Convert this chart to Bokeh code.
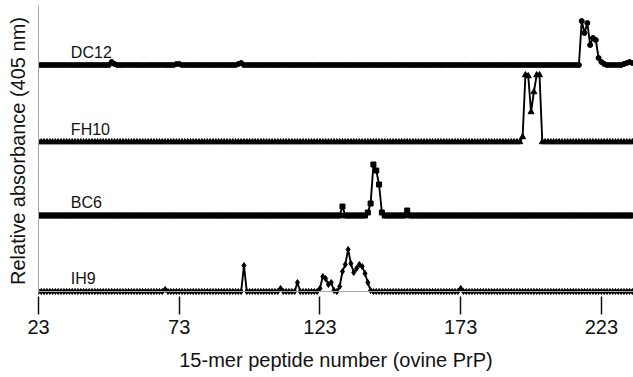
import numpy as np
from bokeh.plotting import figure
from bokeh.models import FixedTicker, Span
from bokeh.embed import file_html
from bokeh.resources import INLINE
from bokeh.core.properties import value

# 15-mer peptide numbers (ovine PrP)
peptides = list(range(23, 235))

# Relative absorbance (405 nm), arbitrary units, one value per peptide (23..234)
dc12 = (
    [0] * 20 +                                                     # 23-42
    [0, 0, 0, 0, 0, 0, 3, 1, 0, 0, 0, 0, 0, 0, 0, 0, 0, 0, 0, 0] +  # 43-62
    [0, 0, 0, 0, 0, 0, 0, 0, 0, 1, 1, 0, 0, 0, 0, 0, 0, 0, 0, 0] +  # 63-82
    [0, 0, 0, 0, 0, 0, 0, 0, 0, 0, 0, 1, 2, 0, 0, 0, 0, 0, 0, 0] +  # 83-102
    [0] * 20 +                                                     # 103-122
    [0] * 20 +                                                     # 123-142
    [0] * 20 +                                                     # 143-162
    [0] * 20 +                                                     # 163-182
    [0] * 20 +                                                     # 183-202
    [0, 0, 0, 0, 0, 0, 0, 0, 0, 0, 0, 0, 0, 44, 32, 42, 20, 27, 25, 7] +  # 203-222
    [3, 1, 0, 0, 0, 0, 0, 0, 1, 2, 3, 2]                           # 223-234
)

fh10 = (
    [0] * 20 + [0] * 20 + [0] * 20 + [0] * 20 + [0] * 20 +          # 23-122
    [0] * 20 + [0] * 20 + [0] * 20 +                                # 123-182
    [0, 0, 0, 0, 0, 0, 0, 0, 0, 0, 0, 0, 5, 67, 66, 30, 50, 67, 67, 0] +  # 183-202
    [0] * 20 +                                                     # 203-222
    [0] * 12                                                       # 223-234
)

bc6 = (
    [0] * 20 + [0] * 20 + [0] * 20 + [0] * 20 + [0] * 20 +          # 23-122
    [0, 0, 0, 0, 0, 0, 0, 0, 9, 0, 0, 0, 0, 0, 0, 0, 0, 3, 12, 51] +  # 123-142
    [45, 31, 3, 0, 0, 0, 0, 0, 0, 0, 0, 5, 0, 0, 0, 0, 0, 0, 0, 0] +  # 143-162
    [0] * 20 + [0] * 20 + [0] * 20 +                                # 163-222
    [0] * 12                                                       # 223-234
)

ih9 = (
    [0] * 20 +                                                     # 23-42
    [0] * 20 +                                                     # 43-62
    [0, 0, 0, 0, 0, 2, 0, 0, 0, 0, 0, 0, 0, 0, 0, 0, 0, 0, 0, 0] +  # 63-82
    [0, 0, 0, 0, 0, 0, 0, 0, 0, 0, 0, 0, 0, 26, 0, 0, 0, 0, 0, 0] +  # 83-102
    [0, 0, 0, 0, 0, 0, 3, 0, 0, 0, 0, 0, 9, 0, 0, 0, 0, 0, 0, 0] +  # 103-122
    [3, 15, 13, 7, 9, 1, 0, 5, 20, 27, 42, 28, 19, 23, 27, 25, 18, 9, 1, 0] +  # 123-142
    [0] * 20 +                                                     # 143-162
    [0, 0, 0, 0, 0, 0, 0, 0, 0, 0, 3, 0, 0, 0, 0, 0, 0, 0, 0, 0] +  # 163-182
    [0] * 20 + [0] * 20 +                                          # 183-222
    [0] * 12                                                       # 223-234
)

series_names = ["DC12", "FH10", "BC6", "IH9"]
series_values = [dc12, fh10, bc6, ih9]
x_ticks = [23, 73, 123, 173, 223]

# layout / style (not data)
offsets = [226.5, 149.5, 76, 0]
markers = ["circle", "triangle", "square", "diamond"]
marker_sizes = [5, 6, 5, 6]
FONT = "Liberation Sans"

p = figure(width=633, height=377, x_range=(23, 234.4), y_range=(-5, 286),
           output_backend="svg", toolbar_location=None,
           min_border_left=38, min_border_right=0, min_border_top=5,
           min_border_bottom=81)

p.grid.visible = False
p.outline_line_color = None
p.background_fill_color = "white"
p.border_fill_color = "white"

# y axis: line only + title
p.yaxis.ticker = FixedTicker(ticks=[])
p.yaxis.axis_line_color = "#a8a8a8"
p.yaxis.axis_line_width = 1
p.yaxis.bounds = (0, 286)
p.yaxis.major_tick_out = 0
p.yaxis.major_tick_in = 0
p.yaxis.minor_tick_out = 0
p.yaxis.minor_tick_in = 0
p.yaxis.axis_label = "Relative absorbance (405 nm)"
p.yaxis.axis_label_text_font = FONT
p.yaxis.axis_label_text_font_size = "20px"
p.yaxis.axis_label_text_font_style = "normal"
p.yaxis.axis_label_text_color = "#111111"
p.yaxis.axis_label_standoff = 10

# x axis: ticks hanging below, no axis line
p.xaxis.ticker = FixedTicker(ticks=x_ticks)
p.xaxis.axis_line_color = None
p.xaxis.major_tick_out = 18
p.xaxis.major_tick_in = 0
p.xaxis.major_tick_line_color = "#111111"
p.xaxis.major_tick_line_width = 1.5
p.xaxis.minor_tick_out = 0
p.xaxis.minor_tick_in = 0
p.xaxis.major_label_text_font = FONT
p.xaxis.major_label_text_font_size = "20px"
p.xaxis.major_label_text_color = "#111111"
p.xaxis.major_label_standoff = 5
p.xaxis.axis_label = "15-mer peptide number (ovine PrP)"
p.xaxis.axis_label_text_font = FONT
p.xaxis.axis_label_text_font_size = "20px"
p.xaxis.axis_label_text_font_style = "normal"
p.xaxis.axis_label_text_color = "#111111"
p.xaxis.axis_label_standoff = 12

# grey baseline along the bottom trace
p.add_layout(Span(location=0, dimension="width", line_color="#a8a8a8", line_width=1))

for name, vals, off, mk, ms in zip(series_names, series_values, offsets, markers, marker_sizes):
    y = np.array(vals, dtype=float) + off
    p.line(peptides, y, line_color="black", line_width=1.9)
    p.scatter(peptides, y, marker=mk, size=ms, fill_color="black", line_color="black")

p.text(x=[34.5] * 4, y=[o + 4.5 for o in offsets], text=series_names,
       text_font=value(FONT), text_font_size="16px", text_color="#111111",
       text_baseline="bottom", text_align="left")

open("out.html", "w").write(file_html(p, INLINE))
